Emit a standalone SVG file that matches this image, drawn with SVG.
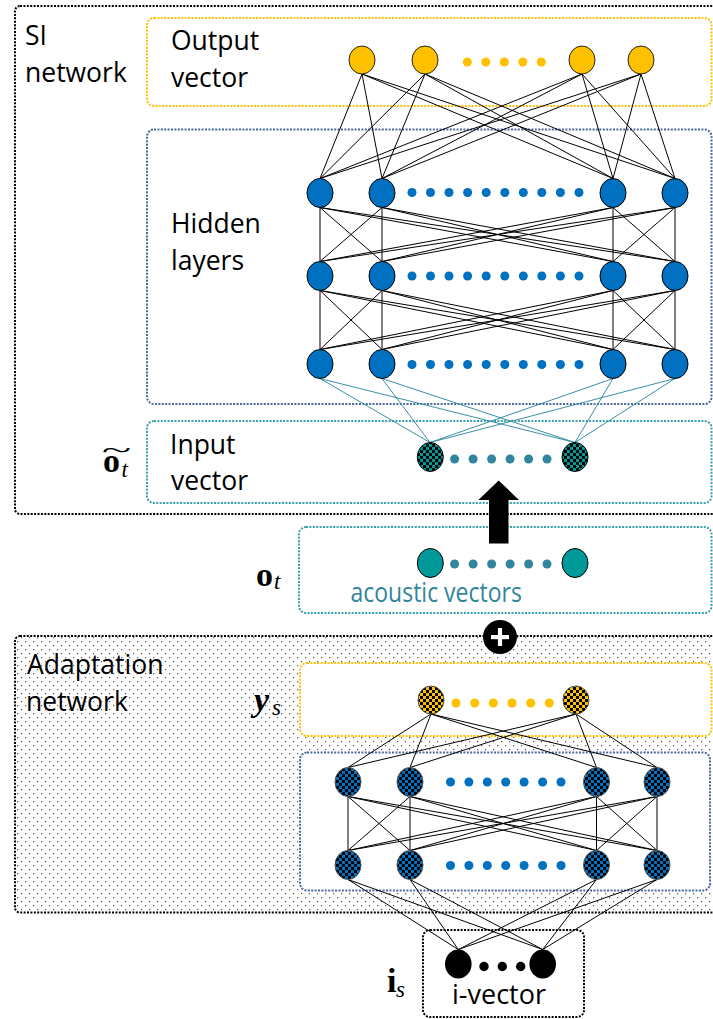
<svg xmlns="http://www.w3.org/2000/svg" width="713" height="1019" viewBox="0 0 713 1019">
<style>
.lbl{font-family:"Open Sans","Liberation Sans",sans-serif;font-size:26.5px;fill:#000}
.mb{font-family:"Liberation Serif",serif;font-weight:bold;font-size:34px;fill:#000}
.mi{font-family:"Liberation Serif",serif;font-style:italic;font-weight:normal;font-size:23px;fill:#000}
.tl{font-family:"Liberation Serif",serif;font-weight:normal;font-size:26px;fill:#000}
.box{stroke-width:2;stroke-dasharray:2 1.4}
.bk{fill:#fff;stroke:#000}
.by{fill:#fff;stroke:#FFC000}
.bb{fill:#fff;stroke:#4A6A9C}
.bt{fill:#fff;stroke:#36A2A8}
.ed{fill:none;stroke:#000;stroke-width:1}
.et{fill:none;stroke:#3A8FA6;stroke-width:1}
.ny{fill:#FFC000;stroke:#262626;stroke-width:1}
.nb{fill:#0070C0;stroke:#000;stroke-width:1}
.nt{fill:url(#chkT);stroke:#000;stroke-width:1}
.na{fill:#009999;stroke:#000;stroke-width:1}
.nyc{fill:url(#chkY);stroke:#555;stroke-width:1}
.nbc{fill:url(#chkB);stroke:#555;stroke-width:1}
.nk{fill:#000}
.dy{fill:#FFC000}.db{fill:#0070C0}.dt{fill:#31859C}.dk{fill:#000}
</style>
<defs>
<pattern id="chkT" width="6" height="6" patternUnits="userSpaceOnUse"><rect width="6" height="6" fill="#009999"/><rect width="3" height="3" fill="#000"/><rect x="3" y="3" width="3" height="3" fill="#000"/></pattern>
<pattern id="chkY" width="6" height="6" patternUnits="userSpaceOnUse"><rect width="6" height="6" fill="#FFC000"/><rect width="3" height="3" fill="#000"/><rect x="3" y="3" width="3" height="3" fill="#000"/></pattern>
<pattern id="chkB" width="6" height="6" patternUnits="userSpaceOnUse"><rect width="6" height="6" fill="#0070C0"/><rect width="3" height="3" fill="#000"/><rect x="3" y="3" width="3" height="3" fill="#000"/></pattern>
<pattern id="dots" width="8" height="8" patternUnits="userSpaceOnUse"><rect width="8" height="8" fill="#fff"/><rect x="1" y="1" width="1.2" height="1.2" fill="#555"/><rect x="5" y="5" width="1.2" height="1.2" fill="#555"/></pattern>
</defs>

<!-- containers -->
<g id="si-network">
<rect class="box bk" x="15" y="6" width="710" height="508" rx="5"/>
<text class="lbl" x="25" y="45">SI</text>
<text class="lbl" x="25" y="81.5">network</text>
</g>
<g id="output-box">
<rect class="box by" x="147" y="18" width="564.5" height="88" rx="7"/>
<text class="lbl" x="171" y="50">Output</text>
<text class="lbl" x="171" y="87">vector</text>
</g>
<g id="hidden-box">
<rect class="box bb" x="147" y="129.5" width="564.5" height="274.5" rx="7"/>
<text class="lbl" x="171" y="233">Hidden</text>
<text class="lbl" x="171" y="269.5">layers</text>
</g>
<g id="input-box">
<rect class="box bt" x="147" y="421" width="564.5" height="82" rx="7"/>
<text class="lbl" x="170" y="453.5">Input</text>
<text class="lbl" x="171" y="490">vector</text>
<text class="tl" transform="translate(116.5 458) scale(2.1 1)" text-anchor="middle">~</text>
<text><tspan class="mb" x="103" y="472">o</tspan><tspan class="mi" x="121.5" y="477">t</tspan></text>
</g>
<g id="acoustic-box">
<rect class="box bt" x="299" y="527" width="412.5" height="86" rx="7"/>
<text transform="translate(350.5 601.5) scale(1 1.15)" style="font-family:'Open Sans','Liberation Sans',sans-serif;font-size:23px;fill:#31859C">acoustic vectors</text>
<text><tspan class="mb" x="256" y="586">o</tspan><tspan class="mi" x="274" y="589">t</tspan></text>
</g>
<g id="adaptation-network">
<rect class="box bk" x="15" y="636" width="710" height="276.5" rx="5" style="fill:url(#dots)"/>
<text class="lbl" x="27" y="674">Adaptation</text>
<text class="lbl" x="26" y="710.5">network</text>
</g>
<g id="ys-box">
<rect class="box by" x="300" y="663" width="411.5" height="73" rx="7"/>
<text><tspan class="mb" x="254" y="711" style="font-style:italic">y</tspan><tspan class="mi" x="272" y="714.5">s</tspan></text>
</g>
<g id="adapt-hidden-box">
<rect class="box bb" x="300" y="752.5" width="410" height="138" rx="7"/>
</g>
<g id="ivector-box">
<rect class="box bk" x="423" y="930" width="161" height="87" rx="7"/>
<text class="lbl" x="452" y="1004" style="font-size:27px">i-vector</text>
<text><tspan class="mb" x="387" y="991.5">i</tspan><tspan class="mi" x="396" y="996.5">s</tspan></text>
</g>

<!-- connectors -->
<g id="connectors">
<path class="ed" d="M362 74L320 178.5M362 74L382 178.5M362 74L613 178.5M362 74L675 178.5M425 74L320 178.5M425 74L382 178.5M425 74L613 178.5M425 74L675 178.5M582 74L320 178.5M582 74L382 178.5M582 74L613 178.5M582 74L675 178.5M641 74L320 178.5M641 74L382 178.5M641 74L613 178.5M641 74L675 178.5"/>
<path class="ed" d="M320 207.5L320 261.5M320 207.5L382 261.5M320 207.5L613 261.5M320 207.5L675 261.5M382 207.5L320 261.5M382 207.5L382 261.5M382 207.5L613 261.5M382 207.5L675 261.5M613 207.5L320 261.5M613 207.5L382 261.5M613 207.5L613 261.5M613 207.5L675 261.5M675 207.5L320 261.5M675 207.5L382 261.5M675 207.5L613 261.5M675 207.5L675 261.5"/>
<path class="ed" d="M320 290.5L320 349.5M320 290.5L382 349.5M320 290.5L613 349.5M320 290.5L675 349.5M382 290.5L320 349.5M382 290.5L382 349.5M382 290.5L613 349.5M382 290.5L675 349.5M613 290.5L320 349.5M613 290.5L382 349.5M613 290.5L613 349.5M613 290.5L675 349.5M675 290.5L320 349.5M675 290.5L382 349.5M675 290.5L613 349.5M675 290.5L675 349.5"/>
<path class="et" d="M320 378.5L430 442.5M320 378.5L575 442.5M382 378.5L430 442.5M382 378.5L575 442.5M613 378.5L430 442.5M613 378.5L575 442.5M675 378.5L430 442.5M675 378.5L575 442.5"/>
<path class="ed" d="M431 714L348 767.5M431 714L410 767.5M431 714L596.5 767.5M431 714L657 767.5M576 714L348 767.5M576 714L410 767.5M576 714L596.5 767.5M576 714L657 767.5"/>
<path class="ed" d="M348 796.5L348 850.5M348 796.5L410 850.5M348 796.5L596.5 850.5M348 796.5L657 850.5M410 796.5L348 850.5M410 796.5L410 850.5M410 796.5L596.5 850.5M410 796.5L657 850.5M596.5 796.5L348 850.5M596.5 796.5L410 850.5M596.5 796.5L596.5 850.5M596.5 796.5L657 850.5M657 796.5L348 850.5M657 796.5L410 850.5M657 796.5L596.5 850.5M657 796.5L657 850.5"/>
<path class="ed" d="M348 879.5L458.3 949.5M348 879.5L542.7 949.5M410 879.5L458.3 949.5M410 879.5L542.7 949.5M596.5 879.5L458.3 949.5M596.5 879.5L542.7 949.5M657 879.5L458.3 949.5M657 879.5L542.7 949.5"/>
</g>

<!-- output layer -->
<g id="out1"><ellipse class="ny" cx="362" cy="60" rx="13" ry="14"/></g>
<g id="out2"><ellipse class="ny" cx="425" cy="60" rx="13" ry="14"/></g>
<g id="out3"><ellipse class="ny" cx="582" cy="60" rx="13" ry="14"/></g>
<g id="out4"><ellipse class="ny" cx="641" cy="60" rx="13" ry="14"/></g>
<g id="out-dots"><circle class="dy" cx="467.3" cy="62" r="4.5"/><circle class="dy" cx="485.8" cy="62" r="4.5"/><circle class="dy" cx="504.3" cy="62" r="4.5"/><circle class="dy" cx="522.8" cy="62" r="4.5"/><circle class="dy" cx="541.3" cy="62" r="4.5"/></g>

<!-- hidden layers -->
<g id="h1a"><ellipse class="nb" cx="320" cy="193" rx="13" ry="14.5"/></g>
<g id="h1b"><ellipse class="nb" cx="382" cy="193" rx="13" ry="14.5"/></g>
<g id="h1c"><ellipse class="nb" cx="613" cy="193" rx="13" ry="14.5"/></g>
<g id="h1d"><ellipse class="nb" cx="675" cy="193" rx="13" ry="14.5"/></g>
<g id="h2a"><ellipse class="nb" cx="320" cy="276" rx="13" ry="14.5"/></g>
<g id="h2b"><ellipse class="nb" cx="382" cy="276" rx="13" ry="14.5"/></g>
<g id="h2c"><ellipse class="nb" cx="613" cy="276" rx="13" ry="14.5"/></g>
<g id="h2d"><ellipse class="nb" cx="675" cy="276" rx="13" ry="14.5"/></g>
<g id="h3a"><ellipse class="nb" cx="320" cy="364" rx="13" ry="14.5"/></g>
<g id="h3b"><ellipse class="nb" cx="382" cy="364" rx="13" ry="14.5"/></g>
<g id="h3c"><ellipse class="nb" cx="613" cy="364" rx="13" ry="14.5"/></g>
<g id="h3d"><ellipse class="nb" cx="675" cy="364" rx="13" ry="14.5"/></g>
<g id="h-dots">
<g id="h1-dots"><circle class="db" cx="412" cy="192.5" r="4.5"/><circle class="db" cx="430.5" cy="192.5" r="4.5"/><circle class="db" cx="449" cy="192.5" r="4.5"/><circle class="db" cx="467.6" cy="192.5" r="4.5"/><circle class="db" cx="486.2" cy="192.5" r="4.5"/><circle class="db" cx="504.8" cy="192.5" r="4.5"/><circle class="db" cx="523.3" cy="192.5" r="4.5"/><circle class="db" cx="541.8" cy="192.5" r="4.5"/><circle class="db" cx="560.4" cy="192.5" r="4.5"/><circle class="db" cx="579" cy="192.5" r="4.5"/></g>
<g id="h2-dots"><circle class="db" cx="412" cy="276" r="4.5"/><circle class="db" cx="430.5" cy="276" r="4.5"/><circle class="db" cx="449" cy="276" r="4.5"/><circle class="db" cx="467.6" cy="276" r="4.5"/><circle class="db" cx="486.2" cy="276" r="4.5"/><circle class="db" cx="504.8" cy="276" r="4.5"/><circle class="db" cx="523.3" cy="276" r="4.5"/><circle class="db" cx="541.8" cy="276" r="4.5"/><circle class="db" cx="560.4" cy="276" r="4.5"/><circle class="db" cx="579" cy="276" r="4.5"/></g>
<g id="h3-dots"><circle class="db" cx="412" cy="364.5" r="4.5"/><circle class="db" cx="430.5" cy="364.5" r="4.5"/><circle class="db" cx="449" cy="364.5" r="4.5"/><circle class="db" cx="467.6" cy="364.5" r="4.5"/><circle class="db" cx="486.2" cy="364.5" r="4.5"/><circle class="db" cx="504.8" cy="364.5" r="4.5"/><circle class="db" cx="523.3" cy="364.5" r="4.5"/><circle class="db" cx="541.8" cy="364.5" r="4.5"/><circle class="db" cx="560.4" cy="364.5" r="4.5"/><circle class="db" cx="579" cy="364.5" r="4.5"/></g>
</g>

<!-- input vector -->
<g id="in1"><ellipse class="nt" cx="430.3" cy="457" rx="13" ry="14.5"/></g>
<g id="in2"><ellipse class="nt" cx="575" cy="457" rx="13" ry="14.5"/></g>
<g id="in-dots"><circle class="dt" cx="454.6" cy="459" r="4.5"/><circle class="dt" cx="473.1" cy="459" r="4.5"/><circle class="dt" cx="491.6" cy="459" r="4.5"/><circle class="dt" cx="510.1" cy="459" r="4.5"/><circle class="dt" cx="528.6" cy="459" r="4.5"/><circle class="dt" cx="547" cy="459" r="4.5"/></g>

<!-- acoustic vectors -->
<g id="ac1"><ellipse class="na" cx="430.3" cy="563" rx="13" ry="14.5"/></g>
<g id="ac2"><ellipse class="na" cx="575" cy="563" rx="13" ry="14.5"/></g>
<g id="ac-dots"><circle class="dt" cx="454.6" cy="564" r="4.5"/><circle class="dt" cx="473.1" cy="564" r="4.5"/><circle class="dt" cx="491.6" cy="564" r="4.5"/><circle class="dt" cx="510.1" cy="564" r="4.5"/><circle class="dt" cx="528.6" cy="564" r="4.5"/><circle class="dt" cx="547" cy="564" r="4.5"/></g>

<!-- block arrow -->
<g id="arrow"><polygon points="498.7,480.5 519,500 508.5,500 508.5,543.5 489,543.5 489,500 478.4,500" fill="#000"/></g>

<!-- plus -->
<g id="plus"><circle cx="500" cy="637" r="17" fill="#000"/><rect x="491" y="635" width="18" height="4.2" fill="#fff"/><rect x="497.9" y="628" width="4.2" height="18" fill="#fff"/></g>

<!-- adaptation output -->
<g id="ys1"><ellipse class="nyc" cx="431" cy="700" rx="13" ry="14"/></g>
<g id="ys2"><ellipse class="nyc" cx="576" cy="700" rx="13" ry="14"/></g>
<g id="ys-dots"><circle class="dy" cx="456" cy="703" r="4.5"/><circle class="dy" cx="474.7" cy="703" r="4.5"/><circle class="dy" cx="493.3" cy="703" r="4.5"/><circle class="dy" cx="512" cy="703" r="4.5"/><circle class="dy" cx="530.7" cy="703" r="4.5"/><circle class="dy" cx="549.3" cy="703" r="4.5"/></g>

<!-- adaptation hidden -->
<g id="a1a"><ellipse class="nbc" cx="348" cy="782" rx="13" ry="14.5"/></g>
<g id="a1b"><ellipse class="nbc" cx="410" cy="782" rx="13" ry="14.5"/></g>
<g id="a1c"><ellipse class="nbc" cx="596.5" cy="782" rx="13" ry="14.5"/></g>
<g id="a1d"><ellipse class="nbc" cx="657" cy="782" rx="13" ry="14.5"/></g>
<g id="a2a"><ellipse class="nbc" cx="348" cy="865" rx="13" ry="14.5"/></g>
<g id="a2b"><ellipse class="nbc" cx="410" cy="865" rx="13" ry="14.5"/></g>
<g id="a2c"><ellipse class="nbc" cx="596.5" cy="865" rx="13" ry="14.5"/></g>
<g id="a2d"><ellipse class="nbc" cx="657" cy="865" rx="13" ry="14.5"/></g>
<g id="a-dots">
<g id="a1-dots"><circle class="db" cx="450.5" cy="782" r="4.5"/><circle class="db" cx="468.9" cy="782" r="4.5"/><circle class="db" cx="487.3" cy="782" r="4.5"/><circle class="db" cx="505.7" cy="782" r="4.5"/><circle class="db" cx="524.1" cy="782" r="4.5"/><circle class="db" cx="542.6" cy="782" r="4.5"/><circle class="db" cx="561" cy="782" r="4.5"/></g>
<g id="a2-dots"><circle class="db" cx="450.5" cy="865.5" r="4.5"/><circle class="db" cx="468.9" cy="865.5" r="4.5"/><circle class="db" cx="487.3" cy="865.5" r="4.5"/><circle class="db" cx="505.7" cy="865.5" r="4.5"/><circle class="db" cx="524.1" cy="865.5" r="4.5"/><circle class="db" cx="542.6" cy="865.5" r="4.5"/><circle class="db" cx="561" cy="865.5" r="4.5"/></g>
</g>

<!-- i-vector -->
<g id="iv1"><ellipse class="nk" cx="458.3" cy="964" rx="13.3" ry="14.5"/></g>
<g id="iv2"><ellipse class="nk" cx="542.7" cy="964" rx="13.3" ry="14.5"/></g>
<g id="iv-dots"><circle class="dk" cx="484" cy="966.5" r="4.7"/><circle class="dk" cx="502.3" cy="966.5" r="4.7"/><circle class="dk" cx="520.7" cy="966.5" r="4.7"/></g>
</svg>
